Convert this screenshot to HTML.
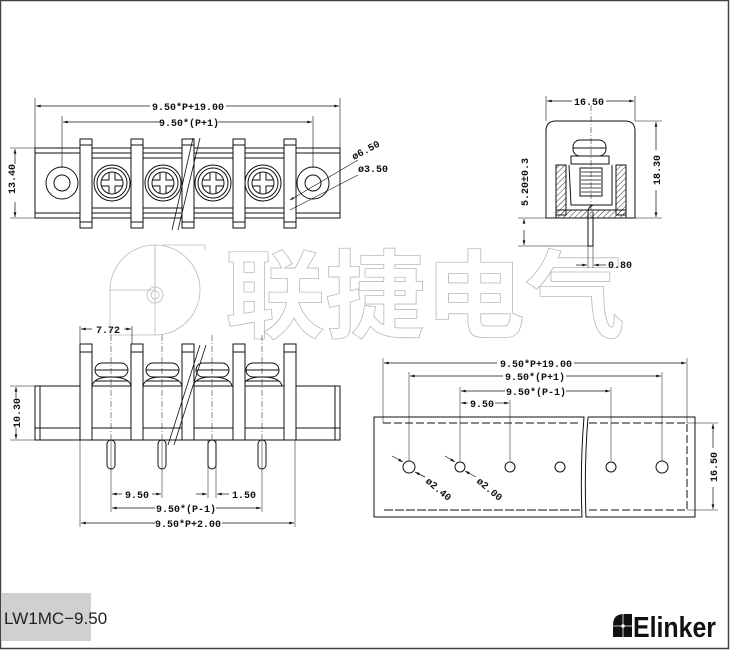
<!DOCTYPE html>
<html><head><meta charset="utf-8"><style>
html,body{margin:0;padding:0;background:#fff;width:730px;height:650px;overflow:hidden}
svg{display:block}
.d{font-family:"Liberation Mono",monospace;font-weight:bold;font-size:10px;fill:#111}
</style></head><body>
<svg width="730" height="650" viewBox="0 0 730 650" xmlns="http://www.w3.org/2000/svg">
<defs>
<marker id="a" viewBox="0 0 10 6" refX="10" refY="3" markerWidth="8" markerHeight="4" orient="auto-start-reverse"><path d="M0,0L10,3L0,6z" fill="#111"/></marker>
<pattern id="h" width="4" height="4" patternUnits="userSpaceOnUse" patternTransform="rotate(45)"><line x1="0" y1="0" x2="0" y2="4" stroke="#333" stroke-width="1"/></pattern>
</defs>
<rect x="0.5" y="0.5" width="728" height="648" fill="none" stroke="#444" stroke-width="1.5"/>

<!-- watermark -->
<g fill="none" stroke="#bbb" stroke-width="0.8">
<path d="M155,245 A45,45 0 0 1 155,335 L110,335 L110,290 L155,290 Z"/>
<path d="M155,245 L155,335 M110,290 A45,45 0 0 1 155,245"/>
<circle cx="155" cy="295" r="8"/><circle cx="155" cy="295" r="4"/>
<path d="M162,245 L205,245 L205,250"/>
<text x="225" y="330" font-family="Noto Sans CJK SC,sans-serif" font-size="96" font-weight="bold" textLength="400" lengthAdjust="spacingAndGlyphs">联捷电气</text>
</g>

<g stroke="#111" fill="none" stroke-width="1">
<!-- TOP VIEW -->
<line x1="35" y1="98" x2="35" y2="148" stroke-width="0.6"/><line x1="340" y1="98" x2="340" y2="148" stroke-width="0.6"/>
<line x1="62" y1="116" x2="62" y2="168" stroke-width="0.6"/><line x1="313" y1="116" x2="313" y2="168" stroke-width="0.6"/>
<line x1="36" y1="106" x2="150" y2="106" marker-start="url(#a)" stroke-width="0.7"/><line x1="226" y1="106" x2="339" y2="106" marker-end="url(#a)" stroke-width="0.7"/>
<line x1="63" y1="122" x2="160" y2="122" marker-start="url(#a)" stroke-width="0.7"/><line x1="218" y1="122" x2="312" y2="122" marker-end="url(#a)" stroke-width="0.7"/>
<line x1="15" y1="149" x2="15" y2="164" marker-start="url(#a)" stroke-width="0.7"/><line x1="15" y1="202" x2="15" y2="217" marker-end="url(#a)" stroke-width="0.7"/>
<line x1="10" y1="148" x2="35" y2="148" stroke-width="0.6"/><line x1="10" y1="218" x2="35" y2="218" stroke-width="0.6"/>
<rect x="35" y="148" width="305" height="70"/>
<line x1="35" y1="153" x2="340" y2="153"/><line x1="35" y1="213" x2="340" y2="213"/>
<line x1="92" y1="158" x2="284" y2="158"/><line x1="92" y1="208" x2="284" y2="208"/>
<circle cx="62" cy="183" r="16"/><circle cx="62" cy="183" r="8"/>
<circle cx="313" cy="183" r="16"/><circle cx="313" cy="183" r="8"/>
<g id="sc">
<circle cx="112" cy="183" r="18"/><circle cx="112" cy="183" r="15"/><circle cx="112" cy="183" r="11"/>
<path d="M109,172 L109,180 L101,180 M101,186 L109,186 L109,194 M115,194 L115,186 L123,186 M123,180 L115,180 L115,172"/>
</g>
<use href="#sc" x="51"/><use href="#sc" x="101"/><use href="#sc" x="151"/>
<g fill="#fff">
<rect x="80" y="139" width="12" height="89"/><rect x="131" y="139" width="12" height="89"/><rect x="182" y="139" width="12" height="89"/><rect x="233" y="139" width="12" height="89"/><rect x="284" y="139" width="12" height="89"/>
</g>
<line x1="80" y1="145" x2="92" y2="145"/><line x1="131" y1="145" x2="143" y2="145"/><line x1="182" y1="145" x2="194" y2="145"/><line x1="233" y1="145" x2="245" y2="145"/><line x1="284" y1="145" x2="296" y2="145"/>
<line x1="80" y1="222" x2="92" y2="222"/><line x1="131" y1="222" x2="143" y2="222"/><line x1="182" y1="222" x2="194" y2="222"/><line x1="233" y1="222" x2="245" y2="222"/><line x1="284" y1="222" x2="296" y2="222"/>
<line x1="193" y1="138" x2="172" y2="230" stroke-width="0.8"/><line x1="200" y1="138" x2="178" y2="230" stroke-width="0.8"/>
<line x1="290" y1="200" x2="358" y2="160" stroke-width="0.6" marker-start="url(#a)"/>
<line x1="290" y1="210" x2="358" y2="175" stroke-width="0.6"/>

<!-- SIDE VIEW -->
<line x1="546" y1="96" x2="546" y2="121" stroke-width="0.6"/><line x1="635" y1="96" x2="635" y2="121" stroke-width="0.6"/>
<line x1="547" y1="101" x2="572" y2="101" marker-start="url(#a)" stroke-width="0.7"/><line x1="606" y1="101" x2="634" y2="101" marker-end="url(#a)" stroke-width="0.7"/>
<line x1="635" y1="121" x2="662" y2="121" stroke-width="0.6"/><line x1="635" y1="218" x2="662" y2="218" stroke-width="0.6"/>
<line x1="656" y1="122" x2="656" y2="150" marker-start="url(#a)" stroke-width="0.7"/><line x1="656" y1="190" x2="656" y2="217" marker-end="url(#a)" stroke-width="0.7"/>
<path d="M546,218 L546,131 Q546,121 556,121 L625,121 Q635,121 635,131 L635,218 Z"/>
<line x1="591" y1="105" x2="591" y2="218" stroke-width="0.5" stroke-dasharray="6,2,1,2"/>
<rect x="573" y="140" width="33" height="16" rx="7"/><line x1="573" y1="148" x2="606" y2="148"/>
<rect x="571" y="156" width="38" height="8"/>
<rect x="556" y="165" width="10" height="50" fill="url(#h)"/><rect x="616" y="165" width="10" height="50" fill="url(#h)"/>
<rect x="556" y="210" width="70" height="8" fill="url(#h)"/>
<rect x="580" y="168" width="22" height="28"/>
<path d="M581,172h20M581,176h20M581,180h20M581,184h20M581,188h20M581,192h20" stroke-width="0.8"/>
<path d="M569,165 L571,205 L612,205 L612,165"/>
<path d="M593,205 Q588,207 588,212 L588,246 L593,246 L593,212"/>
<line x1="518" y1="218" x2="546" y2="218" stroke-width="0.6"/><line x1="518" y1="246" x2="590" y2="246" stroke-width="0.6"/>
<line x1="524" y1="222" x2="524" y2="219" marker-end="url(#a)" stroke-width="0.7"/><line x1="524" y1="230" x2="524" y2="245" marker-end="url(#a)" stroke-width="0.7"/>
<line x1="588" y1="246" x2="588" y2="268" stroke-width="0.5"/><line x1="593" y1="246" x2="593" y2="268" stroke-width="0.5"/>
<line x1="576" y1="265" x2="587" y2="265" marker-end="url(#a)" stroke-width="0.7"/><line x1="606" y1="265" x2="594" y2="265" marker-end="url(#a)" stroke-width="0.7"/>

<!-- FRONT VIEW -->
<rect x="35" y="386" width="305" height="54"/>
<line x1="35" y1="428" x2="340" y2="428"/>
<line x1="40" y1="386" x2="40" y2="440"/><line x1="335" y1="386" x2="335" y2="440"/>
<g id="hd">
<rect x="95" y="363" width="33" height="14" rx="7"/><line x1="95" y1="370" x2="128" y2="370"/>
<path d="M92,386 Q94,377 111,377 Q129,377 131,386"/><path d="M95,381 L128,381"/>
<rect x="107" y="440" width="8" height="29" rx="4"/>
</g>
<use href="#hd" x="51"/><use href="#hd" x="101"/><use href="#hd" x="151"/>
<g fill="#fff">
<rect x="80" y="344" width="12" height="96"/><rect x="131" y="344" width="12" height="96"/><rect x="182" y="344" width="12" height="96"/><rect x="233" y="344" width="12" height="96"/><rect x="284" y="344" width="12" height="96"/>
</g>
<line x1="80" y1="352" x2="92" y2="352"/><line x1="131" y1="352" x2="143" y2="352"/><line x1="182" y1="352" x2="194" y2="352"/><line x1="233" y1="352" x2="245" y2="352"/><line x1="284" y1="352" x2="296" y2="352"/>
<line x1="200" y1="345" x2="168" y2="445" stroke-width="0.8"/><line x1="206" y1="345" x2="174" y2="445" stroke-width="0.8"/>
<line x1="80" y1="326" x2="80" y2="344" stroke-width="0.6"/><line x1="132" y1="326" x2="132" y2="344" stroke-width="0.6"/>
<line x1="81" y1="329" x2="92" y2="329" marker-start="url(#a)" stroke-width="0.7"/><line x1="124" y1="329" x2="131" y2="329" marker-end="url(#a)" stroke-width="0.7"/>
<line x1="10" y1="386" x2="35" y2="386" stroke-width="0.6"/><line x1="10" y1="440" x2="35" y2="440" stroke-width="0.6"/>
<line x1="16" y1="387" x2="16" y2="398" marker-start="url(#a)" stroke-width="0.7"/><line x1="16" y1="428" x2="16" y2="439" marker-end="url(#a)" stroke-width="0.7"/>
<g stroke-width="0.5"><line x1="111" y1="440" x2="111" y2="512"/><line x1="162" y1="440" x2="162" y2="498"/><line x1="208" y1="440" x2="208" y2="498"/><line x1="216" y1="440" x2="216" y2="498"/><line x1="262" y1="440" x2="262" y2="512"/><line x1="80" y1="440" x2="80" y2="527"/><line x1="295" y1="440" x2="295" y2="527"/>
<line x1="111" y1="335" x2="111" y2="440" stroke-dasharray="6,2,1,2"/><line x1="162" y1="335" x2="162" y2="440" stroke-dasharray="6,2,1,2"/><line x1="212" y1="335" x2="212" y2="440" stroke-dasharray="6,2,1,2"/><line x1="262" y1="335" x2="262" y2="440" stroke-dasharray="6,2,1,2"/></g>
<line x1="112" y1="494" x2="122" y2="494" marker-start="url(#a)" stroke-width="0.7"/><line x1="152" y1="494" x2="161" y2="494" marker-end="url(#a)" stroke-width="0.7"/>
<line x1="196" y1="494" x2="207" y2="494" marker-end="url(#a)" stroke-width="0.7"/><line x1="229" y1="494" x2="217" y2="494" marker-end="url(#a)" stroke-width="0.7"/>
<line x1="112" y1="508" x2="155" y2="508" marker-start="url(#a)" stroke-width="0.7"/><line x1="216" y1="508" x2="261" y2="508" marker-end="url(#a)" stroke-width="0.7"/>
<line x1="81" y1="523" x2="155" y2="523" marker-start="url(#a)" stroke-width="0.7"/><line x1="222" y1="523" x2="294" y2="523" marker-end="url(#a)" stroke-width="0.7"/>

<!-- PCB VIEW -->
<path d="M374,417 L584,417 Q580,467 582,517 L374,517 Z"/>
<path d="M588,417 L695,417 L695,517 L586,517 Q584,467 588,417"/>
<path d="M383,423 L580,423 M589,423 L687,423 L687,510 L587,510 M580,510 L383,510 Z" stroke-dasharray="8,3"/>
<g stroke-width="0.5">
<line x1="383" y1="358" x2="383" y2="423"/><line x1="687" y1="358" x2="687" y2="423"/>
<line x1="409" y1="372" x2="409" y2="461"/><line x1="662" y1="372" x2="662" y2="461"/>
<line x1="460" y1="387" x2="460" y2="461"/><line x1="611" y1="387" x2="611" y2="461"/>
<line x1="510" y1="400" x2="510" y2="461"/>
<line x1="687" y1="423" x2="718" y2="423"/><line x1="687" y1="510" x2="718" y2="510"/>
</g>
<line x1="384" y1="363" x2="497" y2="363" marker-start="url(#a)" stroke-width="0.7"/><line x1="574" y1="363" x2="686" y2="363" marker-end="url(#a)" stroke-width="0.7"/>
<line x1="410" y1="376" x2="503" y2="376" marker-start="url(#a)" stroke-width="0.7"/><line x1="566" y1="376" x2="661" y2="376" marker-end="url(#a)" stroke-width="0.7"/>
<line x1="461" y1="391" x2="505" y2="391" marker-start="url(#a)" stroke-width="0.7"/><line x1="566" y1="391" x2="610" y2="391" marker-end="url(#a)" stroke-width="0.7"/>
<line x1="461" y1="403" x2="468" y2="403" marker-start="url(#a)" stroke-width="0.7"/><line x1="495" y1="403" x2="509" y2="403" marker-end="url(#a)" stroke-width="0.7"/>
<line x1="713" y1="424" x2="713" y2="448" marker-start="url(#a)" stroke-width="0.7"/><line x1="713" y1="487" x2="713" y2="509" marker-end="url(#a)" stroke-width="0.7"/>
<circle cx="409" cy="467" r="6"/><circle cx="460" cy="467" r="5"/><circle cx="510" cy="467" r="5"/><circle cx="560" cy="467" r="5"/><circle cx="611" cy="467" r="5"/><circle cx="662" cy="467" r="6"/>
<line x1="392" y1="456" x2="403" y2="462" stroke-width="0.7" marker-end="url(#a)"/><line x1="425" y1="477" x2="415" y2="472" stroke-width="0.7" marker-end="url(#a)"/>
<line x1="445" y1="456" x2="455" y2="462" stroke-width="0.7" marker-end="url(#a)"/><line x1="476" y1="477" x2="465" y2="471" stroke-width="0.7" marker-end="url(#a)"/>
</g>

<!-- labels -->
<g class="d">
<text x="188" y="110" text-anchor="middle">9.50*P+19.00</text>
<text x="189" y="126" text-anchor="middle">9.50*(P+1)</text>
<text x="19" y="183" text-anchor="middle" transform="rotate(-90 15 183)">13.40</text>
<text x="354" y="160" transform="rotate(-28 354 160)">ø6.50</text>
<text x="358" y="172">ø3.50</text>
<text x="589" y="105" text-anchor="middle">16.50</text>
<text x="660" y="170" text-anchor="middle" transform="rotate(-90 660 170)">18.30</text>
<text x="528" y="182" text-anchor="middle" transform="rotate(-90 528 182)">5.20±0.3</text>
<text x="608" y="268">0.80</text>
<text x="108" y="333" text-anchor="middle">7.72</text>
<text x="20" y="413" text-anchor="middle" transform="rotate(-90 20 413)">10.30</text>
<text x="137" y="498" text-anchor="middle">9.50</text>
<text x="244" y="498" text-anchor="middle">1.50</text>
<text x="186" y="512" text-anchor="middle">9.50*(P-1)</text>
<text x="188" y="527" text-anchor="middle">9.50*P+2.00</text>
<text x="536" y="367" text-anchor="middle">9.50*P+19.00</text>
<text x="535" y="380" text-anchor="middle">9.50*(P+1)</text>
<text x="536" y="395" text-anchor="middle">9.50*(P-1)</text>
<text x="482" y="407" text-anchor="middle">9.50</text>
<text x="717" y="467" text-anchor="middle" transform="rotate(-90 717 467)">16.50</text>
<text x="425" y="482" transform="rotate(40 425 482)">ø2.40</text>
<text x="476" y="482" transform="rotate(40 476 482)">ø2.00</text>
</g>

<!-- footer -->
<rect x="2" y="593" width="89" height="48" fill="#d0d0d0"/>
<text x="4" y="624" font-family="Liberation Sans,sans-serif" font-size="17" fill="#222">LW1MC−9.50</text>
<path d="M613,637 L613,625 Q613,614 624,614 L632,614 L632,637 Z" fill="#111"/>
<path d="M623,614 L623,637 M613,626 L632,626" stroke="#fff" stroke-width="0.8"/>
<circle cx="623" cy="626" r="1.8" fill="#fff"/>
<text x="633" y="637" font-family="Liberation Sans,sans-serif" font-weight="bold" font-size="29" fill="#111" textLength="83" lengthAdjust="spacingAndGlyphs">Elinker</text>
</svg>
</body></html>
